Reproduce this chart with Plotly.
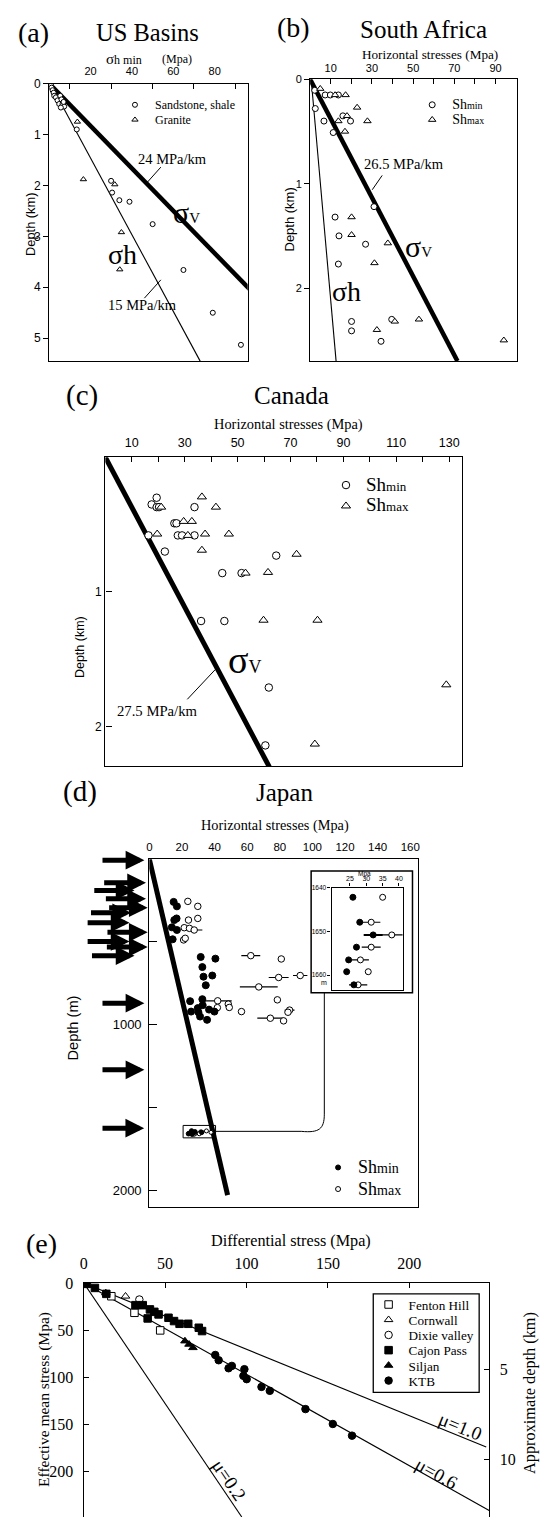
import plotly.graph_objects as go

W, H = 541, 1517
SERIF = "Liberation Serif"
SANS = "Liberation Sans"

# ====================== DATA ======================
# (a) US Basins  (sigma_h min in MPa, depth in km)
a_sand_x = [0.8, 1.1, 1.6, 2.1, 2.4, 3.2, 4.0, 5.3, 5.9, 4.8, 6.4, 7.2, 5.6, 6.9,
            13.3, 29.9, 30.4, 33.9, 38.8, 50.0, 64.9, 79.1, 92.7]
a_sand_d = [0.03, 0.08, 0.13, 0.18, 0.24, 0.27, 0.33, 0.24, 0.31, 0.40, 0.40, 0.45, 0.47, 0.36,
            0.90, 1.91, 2.14, 2.29, 2.32, 2.76, 3.66, 4.50, 5.13]
a_gran_x = [13.6, 16.5, 31.7, 34.9, 34.1]
a_gran_d = [0.75, 1.88, 1.98, 2.92, 3.65]
a_sv_x, a_sv_d = [0, 98.2], [0, 4.09]      # 24 MPa/km
a_sh_x, a_sh_d = [0.5, 73.0], [0, 5.45]    # 15 MPa/km

# (b) South Africa
b_min_x = [2.2, 7.3, 9.8, 13.7, 2.5, 15.9, 19.6, 6.7, 11.2, 31.0, 12.1, 14.0, 26.9, 13.7, 20.1, 20.1, 39.6, 34.4]
b_min_d = [0.105, 0.15, 0.15, 0.15, 0.28, 0.35, 0.40, 0.40, 0.51, 1.22, 1.32, 1.50, 1.58, 1.77, 2.32, 2.41, 2.30, 2.51]
b_max_x = [4.9, 12.1, 17.2, 22.8, 17.9, 13.7, 27.8, 16.9, 20.1, 20.1, 37.7, 31.2, 41.1, 52.8, 32.4, 94.0]
b_max_d = [0.09, 0.15, 0.15, 0.27, 0.35, 0.40, 0.40, 0.50, 1.32, 1.49, 1.57, 1.76, 2.32, 2.30, 2.40, 2.50]
b_sv_x, b_sv_d = [0, 71.5], [0, 2.7]       # 26.5 MPa/km
b_sh_x, b_sh_d = [0.5, 12.6], [0, 2.7]

# (c) Canada
c_min_x = [19.4, 17.5, 19.4, 20.3, 33.7, 26.1, 26.9, 16.3, 27.4, 29.0, 33.7, 22.5, 64.6, 44.2, 51.5, 36.2, 45.0, 61.8, 60.5]
c_min_d = [0.30, 0.35, 0.37, 0.37, 0.37, 0.49, 0.49, 0.58, 0.58, 0.58, 0.58, 0.70, 0.73, 0.86, 0.86, 1.216, 1.216, 1.71, 2.14]
c_max_x = [36.5, 21.1, 41.8, 29.6, 32.7, 19.6, 31.2, 37.7, 46.7, 36.5, 72.3, 53.0, 61.5, 59.8, 80.2, 128.9, 79.2]
c_max_d = [0.294, 0.37, 0.37, 0.476, 0.476, 0.57, 0.58, 0.57, 0.57, 0.69, 0.72, 0.86, 0.855, 1.21, 1.21, 1.69, 2.13]
c_sv_x, c_sv_d = [0, 62.0], [0, 2.3]       # 27.5 MPa/km

# (d) Japan (depth in m)
d_min_x = [14.9, 16.9, 15.3, 16.7, 13.8, 16.9, 14.3, 31.5, 40.5, 32.5, 33.2, 38.6, 34.6, 25.0, 32.5,
           25.6, 29.7, 32.7, 30.1, 36.6, 39.9, 31.1, 35.4]
d_min_d = [258, 285, 368, 358, 412, 428, 484, 591, 601, 652, 710, 703, 762, 858, 846,
           921, 900, 882, 925, 909, 921, 951, 971]
d_max_x = [23.6, 29.7, 24.0, 29.7, 21.4, 24.6, 27.5, 21.0, 22.0, 62.2, 80.9, 79.3, 92.5, 67.1, 41.9,
           48.4, 49.0, 41.7, 78.5, 56.5, 86.0, 85.0, 74.2, 82.3]
d_max_d = [255, 285, 368, 358, 414, 418, 428, 488, 478, 583, 603, 715, 703, 772, 856,
           876, 896, 897, 850, 921, 912, 925, 961, 977]
d_max_err = [0, 0, 0, 0, 0, 0, 5.0, 0, 0, 5.8, 0, 6.1, 4.4, 11.6, 8.6,
             0, 0, 0, 0, 0, 3.0, 0, 8.0, 0]
d_sv_x, d_sv_d = [0, 48.0], [0, 2030]
arrow_depths = [6, 143, 189, 239, 293, 324, 384, 442, 497, 531, 583, 870, 1273, 1626]

# (d) inset (1640-1662 m)
in_depth = [1642.2, 1647.9, 1650.8, 1653.6, 1656.5, 1659.2, 1662.2]
in_min_x = [25.9, 28.0, 32.1, 27.0, 24.6, 24.0, 26.2]
in_min_err = [0, 0, 2.9, 0, 0, 0, 0]
in_max_x = [35.0, 31.5, 37.8, 31.5, 28.2, 30.6, 27.5]
in_max_err = [0, 2.8, 4.6, 2.9, 2.6, 0, 2.8]

# (e) Differential stress vs effective mean stress
fh_x, fh_y = [17.0, 31.2, 47.0], [14.1, 31.7, 50.4]
cw_x, cw_y = [13.6, 25.7], [10.6, 14.1]
dv_x, dv_y = [34.2], [17.6]
cp_x = [2.0, 6.9, 13.9, 31.8, 36.3, 39.3, 40.7, 43.4, 46.0, 52.1, 55.5, 58.9, 64.2, 70.7, 72.7]
cp_y = [1.0, 5.3, 11.6, 23.6, 23.6, 37.7, 28.1, 30.7, 33.4, 37.0, 40.5, 43.4, 43.4, 47.6, 51.1]
sj_x, sj_y = [62.2, 64.7, 67.1], [61.7, 65.2, 68.8]
ktb_x = [80.8, 82.9, 89.0, 91.0, 98.7, 98.1, 100.1, 109.2, 114.3, 136.2, 153.0, 164.8]
ktb_y = [76.5, 82.1, 90.6, 88.1, 91.6, 98.7, 102.2, 110.4, 114.6, 134.0, 149.8, 162.2]
mu_labels = ["μ=0.2", "μ=0.6", "μ=1.0"]
mu_end_x = [97.1, 249.3, 247.2]
mu_end_y = [248.6, 241.9, 174.3]

# ====================== HELPERS ======================
def dx(l, r): return [l / W, r / W]
def dy(t, b): return [1 - b / H, 1 - t / H]
def PX(x): return x / W
def PY(y): return 1 - y / H

fig = go.Figure()
legends = {}
_leg_n = [0]

def new_legend(x_left, y_center, size):
    _leg_n[0] += 1
    key = 'legend' if _leg_n[0] == 1 else 'legend%d' % _leg_n[0]
    legends[key] = dict(x=PX(x_left), y=PY(y_center), xanchor='left', yanchor='middle',
                        bgcolor='rgba(0,0,0,0)', borderwidth=0,
                        font=dict(family=SERIF, size=size, color='black'),
                        itemwidth=30, tracegroupgap=0)
    return key

def mk(symbol, size, fill='white', lw=1.0):
    return dict(symbol=symbol, size=size, color=fill, line=dict(color='black', width=lw))

def line(x, y, xa, ya, w):
    fig.add_trace(go.Scatter(x=x, y=y, xaxis=xa, yaxis=ya, mode='lines',
                             line=dict(color='black', width=w), showlegend=False, hoverinfo='skip'))

def sh(sub, big, small):
    return "<span style='font-size:%gpx'>Sh</span><span style='font-size:%gpx'>%s</span>" % (big, small, sub)

# ---- (a)
line(a_sv_x, a_sv_d, 'x', 'y', 4.5)
line(a_sh_x, a_sh_d, 'x', 'y', 1.1)
fig.add_trace(go.Scatter(x=a_sand_x, y=a_sand_d, xaxis='x', yaxis='y', mode='markers',
                         marker=mk('circle', 5), name='Sandstone, shale',
                         legend=new_legend(112, 97.3, 12)))
fig.add_trace(go.Scatter(x=a_gran_x, y=a_gran_d, xaxis='x', yaxis='y', mode='markers',
                         marker=mk('triangle-up', 5.5), name='Granite',
                         legend=new_legend(112, 112.3, 12)))
# ---- (b)
line(b_sv_x, b_sv_d, 'x2', 'y2', 4.5)
line(b_sh_x, b_sh_d, 'x2', 'y2', 1.1)
fig.add_trace(go.Scatter(x=b_min_x, y=b_min_d, xaxis='x2', yaxis='y2', mode='markers',
                         marker=mk('circle', 6), name=sh('min', 14, 10),
                         legend=new_legend(412, 97.3, 11.5)))
fig.add_trace(go.Scatter(x=b_max_x, y=b_max_d, xaxis='x2', yaxis='y2', mode='markers',
                         marker=mk('triangle-up', 6.5), name=sh('max', 14, 10),
                         legend=new_legend(412, 112.3, 11.5)))
# ---- (c)
line(c_sv_x, c_sv_d, 'x3', 'y3', 5)
fig.add_trace(go.Scatter(x=c_min_x, y=c_min_d, xaxis='x3', yaxis='y3', mode='markers',
                         marker=mk('circle', 7.5), name=sh('min', 19, 13),
                         legend=new_legend(325, 480, 14)))
fig.add_trace(go.Scatter(x=c_max_x, y=c_max_d, xaxis='x3', yaxis='y3', mode='markers',
                         marker=mk('triangle-up', 8), name=sh('max', 19, 13),
                         legend=new_legend(325, 501, 14)))
# ---- (d)
line(d_sv_x, d_sv_d, 'x4', 'y4', 5)
fig.add_trace(go.Scatter(x=d_max_x, y=d_max_d, xaxis='x4', yaxis='y4', mode='markers',
                         error_x=dict(type='data', array=d_max_err, symmetric=True, color='black', thickness=1.2, width=0),
                         marker=mk('circle', 6.5), showlegend=False))
fig.add_trace(go.Scatter(x=d_min_x, y=d_min_d, xaxis='x4', yaxis='y4', mode='markers',
                         marker=mk('circle', 7, fill='black'), showlegend=False))
fig.add_trace(go.Scatter(x=in_max_x, y=in_depth, xaxis='x4', yaxis='y4', mode='markers',
                         marker=mk('circle', 4), showlegend=False))
fig.add_trace(go.Scatter(x=in_min_x, y=in_depth, xaxis='x4', yaxis='y4', mode='markers',
                         marker=mk('circle', 4.5, fill='black'), showlegend=False))
fig.add_trace(go.Scatter(x=[None], y=[None], xaxis='x4', yaxis='y4', mode='markers',
                         marker=mk('circle', 5, fill='black'), name=sh('min', 18, 14),
                         legend=new_legend(317, 1166, 14)))
fig.add_trace(go.Scatter(x=[None], y=[None], xaxis='x4', yaxis='y4', mode='markers',
                         marker=mk('circle', 5), name=sh('max', 18, 14),
                         legend=new_legend(317, 1187.7, 14)))
# ---- (d) inset
fig.add_trace(go.Scatter(x=in_max_x, y=in_depth, xaxis='x5', yaxis='y5', mode='markers',
                         error_x=dict(type='data', array=in_max_err, symmetric=True, color='black', thickness=1.2, width=0),
                         marker=mk('circle', 6), showlegend=False))
fig.add_trace(go.Scatter(x=in_min_x, y=in_depth, xaxis='x5', yaxis='y5', mode='markers',
                         error_x=dict(type='data', array=in_min_err, symmetric=True, color='black', thickness=2, width=0),
                         marker=mk('circle', 6, fill='black'), showlegend=False))
# ---- (e)
for i in range(3):
    line([0, mu_end_x[i]], [0, mu_end_y[i]], 'x6', 'y6', 1.1)
esets = [(fh_x, fh_y, 'square', 'white', 'Fenton Hill'),
         (cw_x, cw_y, 'triangle-up', 'white', 'Cornwall'),
         (dv_x, dv_y, 'circle', 'white', 'Dixie valley'),
         (cp_x, cp_y, 'square', 'black', 'Cajon Pass'),
         (sj_x, sj_y, 'triangle-up', 'black', 'Siljan'),
         (ktb_x, ktb_y, 'circle', 'black', 'KTB')]
e_leg_y = [1303.8, 1319.1, 1334.4, 1349.7, 1365.0, 1380.3]
for (xs, ys, sym, fc, nm), ly in zip(esets, e_leg_y):
    fig.add_trace(go.Scatter(x=xs, y=ys, xaxis='x6', yaxis='y6', mode='markers',
                             marker=mk(sym, 7.5, fill=fc), name=nm,
                             legend=new_legend(368, ly, 13.2)))
fig.add_trace(go.Scatter(x=[None], y=[None], xaxis='x6', yaxis='y7', showlegend=False))

# ====================== AXES ======================
base = dict(showline=True, linecolor='black', linewidth=1.3, showgrid=False, zeroline=False,
            tickcolor='black', tickwidth=1, tickmode='array')

def ax(**kw):
    d = dict(base); d.update(kw); return d

layout = dict(
    width=W, height=H, margin=dict(l=0, r=0, t=0, b=0),
    paper_bgcolor='white', plot_bgcolor='white', showlegend=True,
    xaxis=ax(domain=dx(45.7, 246), anchor='y', side='top', mirror=True, range=[0, 96],
             tickvals=[20, 40, 60, 80], ticks='', ticklabelstandoff=3,
             minor=dict(tickvals=[10, 30, 50, 70, 90], ticks='inside', ticklen=5, tickcolor='black'),
             tickfont=dict(family=SANS, size=11, color='black')),
    yaxis=ax(domain=dy(76, 355), anchor='x', mirror=True, range=[5.45, 0],
             tickvals=[0, 1, 2, 3, 4, 5], ticks='outside', ticklen=5,
             tickfont=dict(family=SANS, size=12, color='black')),
    xaxis2=ax(domain=dx(309, 518), anchor='y2', side='top', mirror=True, range=[0, 100.5],
              tickvals=[10, 30, 50, 70, 90], ticks='inside', ticklen=5, ticklabelstandoff=2,
              minor=dict(tickvals=[20, 40, 60, 80], ticks='inside', ticklen=5, tickcolor='black'),
              tickfont=dict(family=SANS, size=11, color='black')),
    yaxis2=ax(domain=dy(71.7, 355), anchor='x2', mirror=True, range=[2.7, 0],
              tickvals=[0, 1, 2], ticks='outside', ticklen=5,
              tickfont=dict(family=SANS, size=11, color='black')),
    xaxis3=ax(domain=dx(102.3, 462.7), anchor='y3', side='top', mirror=True, range=[0, 135],
              tickvals=[10, 30, 50, 70, 90, 110, 130], ticks='inside', ticklen=5, ticklabelstandoff=4,
              minor=dict(tickvals=[20, 40, 60, 80, 100, 120], ticks='inside', ticklen=5, tickcolor='black'),
              tickfont=dict(family=SANS, size=12.5, color='black')),
    yaxis3=ax(domain=dy(451.7, 762.3), anchor='x3', mirror=True, range=[2.295, 0],
              tickvals=[1, 2], ticks='inside', ticklen=6,
              tickfont=dict(family=SANS, size=12, color='black')),
    xaxis4=ax(domain=dx(146.7, 418.3), anchor='y4', side='top', mirror=True, range=[0, 165],
              tickvals=[0, 20, 40, 60, 80, 100, 120, 140, 160], ticks='', ticklabelstandoff=2,
              tickfont=dict(family=SANS, size=11.5, color='black')),
    yaxis4=ax(domain=dy(855.7, 1205.7), anchor='x4', mirror=True, range=[2104, 0],
              tickvals=[500, 1000, 1500, 2000], ticktext=['', '1000', '', '2000'],
              ticks='inside', ticklen=8, ticklabelstandoff=4,
              tickfont=dict(family=SANS, size=13, color='black')),
    xaxis5=ax(domain=dx(330.7, 402.3), anchor='y5', side='top', mirror=True, range=[19.4, 41.1],
              tickvals=[25, 30, 35, 40], ticks='outside', ticklen=3, ticklabelstandoff=0,
              tickfont=dict(family=SANS, size=7, color='black')),
    yaxis5=ax(domain=dy(884.3, 987.3), anchor='x5', mirror=True, range=[1663.4, 1640],
              tickvals=[1640, 1650, 1660], ticks='outside', ticklen=3, ticklabelstandoff=0,
              tickfont=dict(family=SANS, size=6.5, color='black')),
    xaxis6=ax(domain=dx(80.4, 490), anchor='y6', side='top', mirror=False, range=[0, 249.2],
              tickvals=[0, 50, 100, 150, 200], ticks='inside', ticklen=5, ticklabelstandoff=6,
              tickfont=dict(family=SERIF, size=16, color='black')),
    yaxis6=ax(domain=[0, PY(1281.7)], anchor='x6', mirror=False, range=[248.6, 0],
              tickvals=[0, 50, 100, 150, 200], ticks='inside', ticklen=5, ticklabelstandoff=6,
              tickfont=dict(family=SERIF, size=16, color='black')),
    yaxis7=ax(overlaying='y6', anchor='x6', side='right', range=[13.22, 0.15],
              tickvals=[5, 10], ticks='inside', ticklen=5, ticklabelstandoff=6,
              tickfont=dict(family=SERIF, size=16, color='black')),
)
layout.update(legends)

# ====================== TEXT ======================
ann = []
def T(text, x, y, size, family=SERIF, angle=0, xa='center', ya='middle'):
    ann.append(dict(text=text, x=PX(x), y=PY(y), xref='paper', yref='paper', showarrow=False,
                    font=dict(family=family, size=size, color='black'), textangle=angle,
                    xanchor=xa, yanchor=ya))

SIGV = "σ<span style='font-size:%dpx'>V</span>"
# (a)
T("(a)", 29.3, 25, 28)
T("US Basins", 145, 25, 24.5)
T("<span style='font-size:15px'>σ</span>h min", 121, 51, 12)
T("(Mpa)", 175, 51, 12)
T("24 MPa/km", 170, 151.7, 14.5)
T(SIGV % 15, 184.5, 206, 30)
T("σh", 120, 248, 28)
T("15 MPa/km", 140, 298.3, 14.5)
T("Depth (km)", 27.3, 218, 12.8, family=SANS, angle=-90)
# (b)
T("(b)", 291.7, 20, 28)
T("South Africa", 423.3, 21.7, 25)
T("Horizontal stresses (Mpa)", 430, 46.7, 13.2)
T("26.5 MPa/km", 403.3, 156.7, 14.5)
T(SIGV % 15, 418.3, 240, 30)
T("σh", 345.8, 285, 28)
T("Depth (km)", 288.3, 213, 13, family=SANS, angle=-90)
# (c)
T("(c)", 78.8, 390, 29)
T("Canada", 290, 390, 25)
T("Horizontal stresses (Mpa)", 286.7, 418.3, 14.4)
T("27.5 MPa/km", 155, 706.7, 14.7)
T(SIGV % 18, 242.5, 655, 38)
T("Depth (km)", 76.7, 642.5, 12.5, family=SANS, angle=-90)
# (d)
T("(d)", 77, 788, 29)
T("Japan", 283.3, 788.3, 25)
T("Horizontal stresses (Mpa)", 273.3, 821.7, 14.3)
T("Depth (m)", 69.5, 1025, 14.6, family=SANS, angle=-90)
T("Mpa", 364, 870.5, 6.5, family=SANS)
T("m", 323.3, 980, 7, family=SANS)
# (e)
T("(e)", 38, 1241.7, 28)
T("Differential stress (Mpa)", 289.9, 1240, 16.2)
T("Effective mean stress (Mpa)", 39.7, 1399, 15.5, angle=-90)
T("Approximate depth (km)", 529.7, 1392.5, 16.3, angle=-90)
T(mu_labels[2], 460.7, 1426, 19, angle=22.1)
T(mu_labels[1], 436.5, 1473.3, 19, angle=29.2)
T(mu_labels[0], 227.7, 1480, 19, angle=55.9)

# (d) arrows
arrow_tip = [141.7, 143.3, 131.7, 143.3, 145, 128.3, 126.7, 145, 126.7, 145, 131.7, 141.7, 141.7, 141.5]
arrow_len = [43.4, 43.3, 41.7, 41.6, 40, 41.6, 43.4, 41.7, 43.4, 42.3, 44, 43.4, 43.4, 43.2]
for dep, tip, ln in zip(arrow_depths, arrow_tip, arrow_len):
    ann.append(dict(x=(tip - 146.7) / 271.6, y=dep, xref='x4 domain', yref='y4', text='',
                    showarrow=True, ax=-ln, ay=0, arrowhead=2, arrowsize=0.75, arrowwidth=5,
                    arrowcolor='black', standoff=0))

layout['annotations'] = ann

# ====================== SHAPES ======================
shapes = []
def seg(x0, y0, x1, y1, w=1):
    shapes.append(dict(type='line', xref='paper', yref='paper', x0=PX(x0), y0=PY(y0), x1=PX(x1), y1=PY(y1),
                       line=dict(color='black', width=w)))
seg(158.3, 160, 143.3, 176.7)
seg(141.7, 291.7, 158.3, 273.3)
seg(381.7, 168.3, 371.7, 182.7)
seg(185, 695, 213.3, 665)
# inset frame
shapes.append(dict(type='rect', xref='paper', yref='paper', x0=PX(310), x1=PX(412.3), y0=PY(990), y1=PY(867.7),
                   line=dict(color='black', width=1.5), layer='above'))
# (e) legend frame
shapes.append(dict(type='rect', xref='paper', yref='paper', x0=PX(372.7), x1=PX(479.6), y0=PY(1391.7), y1=PY(1292.7),
                   line=dict(color='black', width=1.3), fillcolor='white', layer='below'))
# rectangle around 1640-1662 m cluster
shapes.append(dict(type='rect', xref='x4', yref='y4', x0=20.7, x1=40.6, y0=1609, y1=1684,
                   line=dict(color='black', width=1)))
# connector
pts = lambda x, y: "%.5f,%.5f" % (PX(x), PY(y))
path = ("M " + pts(213.9, 1129.3) + " L " + pts(300, 1129.3) + " C " + pts(318, 1131) + " " +
        pts(323.3, 1127) + " " + pts(323.3, 1112) + " L " + pts(323.3, 990))
shapes.append(dict(type='path', xref='paper', yref='paper', path=path, line=dict(color='black', width=1)))
layout['shapes'] = shapes

fig.update_layout(**layout)
fig.write_html("out.html")
